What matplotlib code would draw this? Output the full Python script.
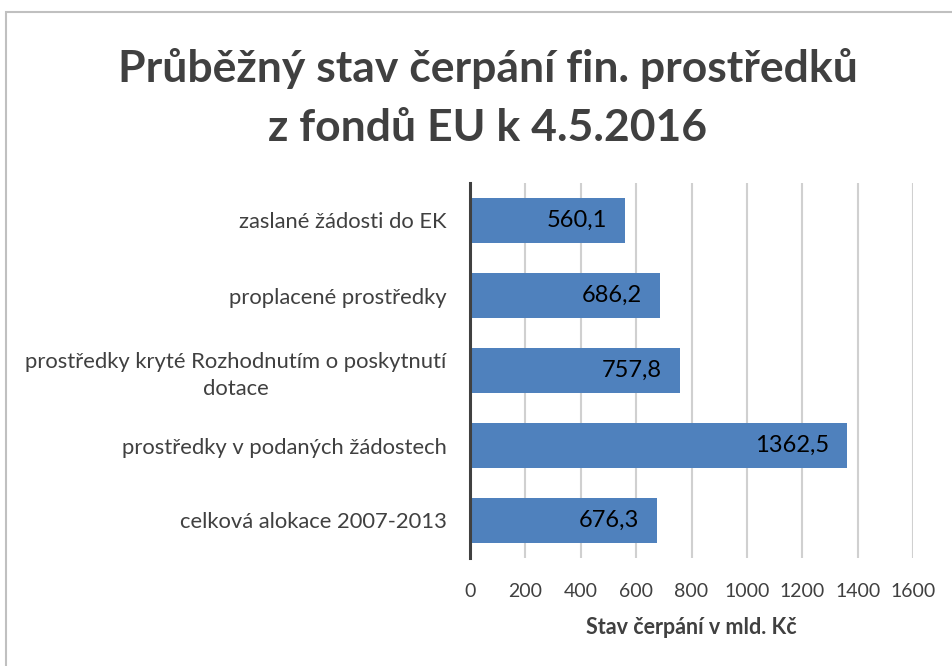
import matplotlib
matplotlib.use("Agg")
import matplotlib.pyplot as plt
from matplotlib.patches import Rectangle

# data (top -> bottom as in the picture)
categories = [
    "zaslané žádosti do EK",
    "proplacené prostředky",
    "prostředky kryté Rozhodnutím o poskytnutí\ndotace",
    "prostředky v podaných žádostech",
    "celková alokace 2007-2013",
]
values = [560.1, 686.2, 757.8, 1362.5, 676.3]
x_ticks = [0, 200, 400, 600, 800, 1000, 1200, 1400, 1600]

TITLE = "Průběžný stav čerpání fin. prostředků\nz fondů EU k 4.5.2016"
XLABEL = "Stav čerpání v mld. Kč"

TXT = "#404040"
BAR = "#4F81BD"
GRID = "#D0D0D0"

plt.rcParams["font.family"] = ["Lato", "DejaVu Sans"]

fig = plt.figure(figsize=(9.53, 6.66), dpi=100)
fig.patch.set_facecolor("white")

# chart border (light grey frame, cut at right/bottom like the screenshot)
fig.patches.append(Rectangle((6 / 953, -0.1), 1.2, 1 - 12 / 666 + 0.1,
                             transform=fig.transFigure, fill=False,
                             edgecolor="#C0C0C0", linewidth=1.5))

ax = fig.add_axes([470 / 953, 1 - 558 / 666, 443 / 953, 375 / 666])

y = list(range(len(categories)))
ax.barh(y, values, height=0.6, color=BAR, zorder=3)

for yi, v in zip(y, values):
    lbl = f"{v:.1f}".replace(".", ",")
    ax.annotate(lbl, (v, yi), xytext=(-18, 0), textcoords="offset pixels",
                ha="right", va="center", fontsize=17, color="black", zorder=4)

ax.set_xlim(0, 1600)
ax.set_ylim(len(categories) - 0.5, -0.5)
ax.set_xticks(x_ticks)
ax.set_xticklabels([str(t) for t in x_ticks])
ax.set_yticks(y)
ax.set_yticklabels(categories, multialignment="center", linespacing=1.4)

ax.grid(axis="x", color=GRID, linewidth=1.5, zorder=0)
ax.tick_params(axis="x", length=0, pad=18, labelsize=14, labelcolor=TXT)
ax.tick_params(axis="y", length=0, pad=17, labelsize=15.8, labelcolor=TXT)

for s in ("top", "right", "bottom"):
    ax.spines[s].set_visible(False)
ax.spines["left"].set_color(TXT)
ax.spines["left"].set_linewidth(2.2)
ax.spines["left"].set_zorder(5)

ax.set_xlabel(XLABEL, fontsize=15.5, fontweight="bold", color=TXT, labelpad=12)

fig.text(488 / 953, 1 - 98 / 666, TITLE, ha="center", va="center",
         fontsize=32, fontweight="bold", color=TXT, linespacing=1.55)

fig.savefig("out.png", dpi=100, facecolor="white")
